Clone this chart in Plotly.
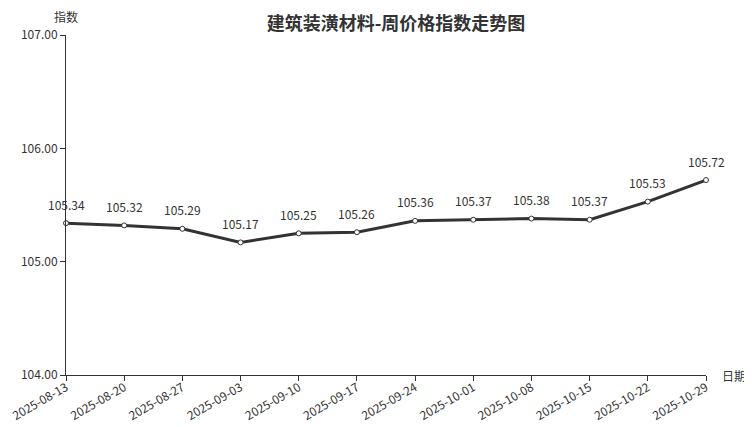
import plotly.graph_objects as go

dates = ['2025-08-13', '2025-08-20', '2025-08-27', '2025-09-03', '2025-09-10', '2025-09-17',
         '2025-09-24', '2025-10-01', '2025-10-08', '2025-10-15', '2025-10-22', '2025-10-29']
index_values = [105.34, 105.32, 105.29, 105.17, 105.25, 105.26,
                105.36, 105.37, 105.38, 105.37, 105.53, 105.72]
y_ticks = [104, 105, 106, 107]

FONT = 'Noto Sans CJK SC'

fig = go.Figure(go.Scatter(
    x=dates,
    y=index_values,
    mode='lines+markers',
    line=dict(color='#333333', width=3),
    marker=dict(size=5, color='white', line=dict(color='#333333', width=1)),
    cliponaxis=False,
    hoverinfo='x+y'
))

# 数据标签
labels = [dict(x=d, y=v, text=f'{v:.2f}', showarrow=False, yanchor='middle', yshift=19,
               font=dict(size=12, color='#333333')) for d, v in zip(dates, index_values)]

# 页面 body 默认有 8px 边距，这里整体缩小补偿
fig.update_layout(
    width=744, height=419,
    margin=dict(l=58, r=46, t=27, b=52),
    plot_bgcolor='white', paper_bgcolor='white',
    showlegend=False,
    font=dict(family=FONT, color='#333333', size=12),
    title=dict(text='<b>建筑装潢材料-周价格指数走势图</b>', x=0.5215, xanchor='center',
               y=0.962, yanchor='middle', font=dict(size=18, color='#333333', family=FONT)),
    xaxis=dict(
        type='category', range=[0, len(dates) - 1], automargin=False,
        showline=True, linecolor='#333333', linewidth=1,
        ticks='outside', ticklen=5, tickcolor='#333333',
        tickangle=-30, tickfont=dict(size=12, color='#333333'),
        ticklabelstandoff=-5,
        showgrid=False, zeroline=False
    ),
    yaxis=dict(
        range=[104, 107], tickvals=y_ticks, automargin=False,
        ticktext=[f'{v:.2f}' for v in y_ticks],
        showline=True, linecolor='#333333', linewidth=1,
        ticks='outside', ticklen=5, tickcolor='#333333',
        tickfont=dict(size=12, color='#333333'),
        showgrid=False, zeroline=False
    ),
    annotations=labels + [
        dict(text='指数', xref='paper', yref='paper', x=0, y=1, xanchor='center',
             yanchor='bottom', yshift=8, showarrow=False, font=dict(size=12, color='#333333')),
        dict(text='日期', xref='paper', yref='paper', x=1, y=0, xanchor='left',
             yanchor='middle', xshift=14, showarrow=False, font=dict(size=12, color='#333333')),
    ]
)

fig.write_html('out.html')
